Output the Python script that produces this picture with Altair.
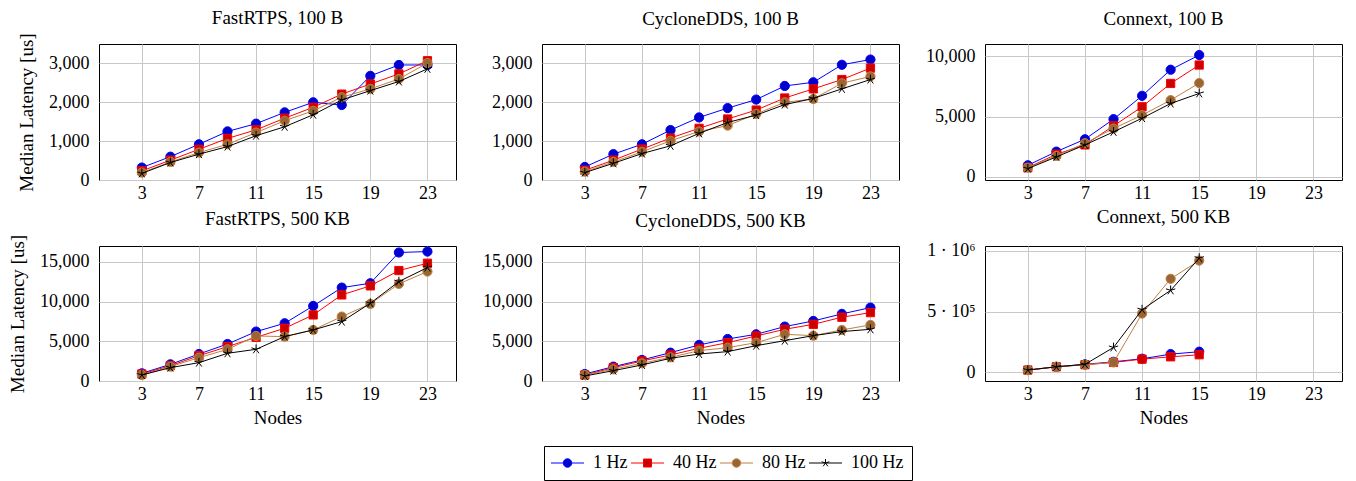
import altair as alt
import pandas as pd

series = ["1 Hz", "40 Hz", "80 Hz", "100 Hz"]
nodes = [3, 5, 7, 9, 11, 13, 15, 17, 19, 21, 23]
nodes_connext = [3, 5, 7, 9, 11, 13, 15]
x_ticks = [3, 7, 11, 15, 19, 23]

fast_100 = {
    "1 Hz": [320, 600, 920, 1250, 1450, 1740, 2000, 1930, 2680, 2960, 2960],
    "40 Hz": [235, 510, 790, 1070, 1290, 1590, 1870, 2210, 2470, 2730, 3070],
    "80 Hz": [190, 465, 705, 920, 1220, 1525, 1780, 2130, 2345, 2600, 3010],
    "100 Hz": [170, 450, 665, 860, 1140, 1370, 1680, 2060, 2300, 2535, 2860],
}
cyclone_100 = {
    "1 Hz": [335, 665, 920, 1285, 1610, 1850, 2070, 2420, 2515, 2965, 3100],
    "40 Hz": [250, 510, 795, 1080, 1330, 1570, 1800, 2110, 2345, 2585, 2880],
    "80 Hz": [215, 465, 725, 1010, 1250, 1400, 1700, 2000, 2085, 2490, 2665],
    "100 Hz": [190, 430, 680, 880, 1200, 1480, 1670, 1940, 2100, 2345, 2585],
}
connext_100 = {
    "1 Hz": [945, 2080, 3110, 4780, 6720, 8890, 10110],
    "40 Hz": [750, 1860, 2640, 4220, 5810, 7750, 9280],
    "80 Hz": [750, 1720, 2780, 4000, 5110, 6360, 7780],
    "100 Hz": [670, 1640, 2640, 3720, 4860, 6080, 6920],
}
fast_500 = {
    "1 Hz": [965, 2100, 3400, 4660, 6220, 7270, 9450, 11760, 12310, 16180, 16300],
    "40 Hz": [880, 1930, 3190, 4330, 5500, 6640, 8320, 10840, 11980, 13910, 14830],
    "80 Hz": [755, 1810, 2940, 3990, 5670, 5590, 6430, 8110, 9710, 12230, 13780],
    "100 Hz": [755, 1680, 2310, 3490, 3990, 5590, 6430, 7480, 9790, 12520, 14290],
}
cyclone_500 = {
    "1 Hz": [880, 1810, 2650, 3570, 4540, 5290, 5880, 6850, 7560, 8450, 9240],
    "40 Hz": [755, 1680, 2520, 3280, 4120, 4830, 5670, 6510, 7140, 8030, 8610],
    "80 Hz": [755, 1470, 2230, 2980, 3820, 4200, 4830, 5880, 5710, 6430, 7060],
    "100 Hz": [630, 1300, 2020, 2860, 3400, 3700, 4450, 5080, 5710, 6220, 6510],
}
connext_500 = {
    "1 Hz": [19000, 46000, 66000, 87000, 112000, 150000, 170000],
    "40 Hz": [19000, 46000, 63000, 82000, 109000, 128000, 145000],
    "80 Hz": [19000, 46000, 63000, 82000, 484000, 770000, 920000],
    "100 Hz": [19000, 46000, 66000, 205000, 516000, 675000, 940000],
}

line_colors = ["#0000ff", "#ff0000", "#bf8040", "#000000"]
fill_colors = ["#0000cc", "#cc0000", "#996633", "transparent"]

STAR = "M0,0L0,-1M0,0L-0.951,-0.309M0,0L-0.588,0.809M0,0L0.588,0.809M0,0L0.951,-0.309"
marker_shapes = ["circle", "square", "circle", STAR]
marker_sizes = [85, 68, 85, 95]
# legend symbols: unit = 5px (symbolSize 100); line from -2 to 4.6, marker centred at 1.3
legend_paths = [
    "M-2,0H0.45M2.15,0H4.6M0.45,0A0.85,0.85,0,1,1,2.15,0A0.85,0.85,0,1,1,0.45,0Z",
    "M-2,0H0.5M2.1,0H4.6M0.5,-0.8H2.1V0.8H0.5Z",
    "M-2,0H0.45M2.15,0H4.6M0.45,0A0.85,0.85,0,1,1,2.15,0A0.85,0.85,0,1,1,0.45,0Z",
    "M-2,0H4.6M1.3,0L1.3,-0.8M1.3,0L0.539,-0.247M1.3,0L0.83,0.647M1.3,0L1.77,0.647M1.3,0L2.061,-0.247",
]

rows = []
for pname, xs, d in [
    ("fast_100", nodes, fast_100),
    ("cyclone_100", nodes, cyclone_100),
    ("connext_100", nodes_connext, connext_100),
    ("fast_500", nodes, fast_500),
    ("cyclone_500", nodes, cyclone_500),
    ("connext_500", nodes_connext, connext_500),
]:
    for s in series:
        for x, v in zip(xs, d[s]):
            rows.append({"panel": pname, "nodes": x, "series": s, "latency": v})
df = pd.DataFrame(rows)

FONT = "Liberation Serif"
W, H = 357, 136


def make_panel(pname, title, ydom, yticks, ytitle, xtitle, label_expr=None, legend=False, h=H):
    base = alt.Chart(df).transform_filter(alt.datum.panel == pname)
    x_axis_kw = dict(values=x_ticks, labelPadding=4, titlePadding=5)
    x_axis_kw["title"] = "Nodes" if xtitle else None
    xenc = alt.X(
        "nodes:Q",
        scale=alt.Scale(domain=[0, 25], nice=False, zero=False),
        axis=alt.Axis(**x_axis_kw),
    )
    axis_kw = dict(values=yticks, labelPadding=10, titlePadding=12)
    axis_kw["title"] = ytitle if ytitle else None
    axis_kw["labelExpr"] = label_expr if label_expr else "format(datum.value, ',')"
    yenc = alt.Y("latency:Q", scale=alt.Scale(domain=ydom, nice=False, zero=False), axis=alt.Axis(**axis_kw))
    layers = []
    for i, s in enumerate(series):
        sub = base.transform_filter(alt.datum.series == s)
        layers.append(sub.mark_line(color=line_colors[i], strokeWidth=1).encode(x=xenc, y=yenc))
        if i == 3:
            pt = sub.mark_point(shape=marker_shapes[i], size=marker_sizes[i], filled=False,
                                stroke=line_colors[i], strokeWidth=1, opacity=1)
        else:
            pt = sub.mark_point(shape=marker_shapes[i], size=marker_sizes[i], filled=True,
                                fill=fill_colors[i], stroke=line_colors[i], strokeWidth=1, opacity=1)
        layers.append(pt.encode(x=xenc, y=yenc))
    if legend:
        leg = alt.Legend(
            title=None, orient="none", legendX=445, legendY=402, direction="horizontal",
            labelFont=FONT, labelFontSize=18, labelColor="black", strokeColor="black",
            fillColor="white", padding=8, symbolSize=100, symbolStrokeWidth=1,
            columnPadding=1, labelOffset=23,
        )
        dummy = alt.Chart(df).transform_filter("false").mark_point(
            filled=True, size=100, strokeWidth=1, opacity=1
        ).encode(
            shape=alt.Shape("series:N", scale=alt.Scale(domain=series, range=legend_paths), legend=leg),
            fill=alt.Fill("series:N", scale=alt.Scale(domain=series, range=fill_colors), legend=leg),
            stroke=alt.Stroke("series:N", scale=alt.Scale(domain=series, range=line_colors), legend=leg),
        )
        layers.append(dummy)
    # the rotated y-axis title reaches ~10px above the plot; compensate so titles line up
    toff = 5 if ytitle else 15
    return alt.layer(*layers).properties(
        width=W, height=h,
        title=alt.Title(title, font=FONT, fontSize=19, fontWeight="normal", color="black",
                        offset=toff, frame="group"),
    )


connext_expr = "datum.value == 0 ? '0' : datum.value == 500000 ? '5 · 10⁵' : '1 · 10⁶'"

p1 = make_panel("fast_100", "FastRTPS, 100 B", [0, 3500], [0, 1000, 2000, 3000], "Median Latency [us]", False, legend=True)
p2 = make_panel("cyclone_100", "CycloneDDS, 100 B", [0, 3500], [0, 1000, 2000, 3000], None, False)
p3 = make_panel("connext_100", "Connext, 100 B", [-280, 11030], [0, 5000, 10000], None, False)
p4 = make_panel("fast_500", "FastRTPS, 500 KB", [0, 17000], [0, 5000, 10000, 15000], "Median Latency [us]", True, h=135)
p5 = make_panel("cyclone_500", "CycloneDDS, 500 KB", [0, 17000], [0, 5000, 10000, 15000], None, True, h=135)
p6 = make_panel("connext_500", "Connext, 500 KB", [-71000, 1040000], [0, 500000, 1000000], None, True, label_expr=connext_expr, h=135)

chart = alt.concat(
    p1, p2, p3, p4, p5, p6, columns=3, spacing=alt.RowColnumber(row=66, column=86), bounds="flush"
).properties(
    background="white", padding={"left": 0, "top": 0, "right": 5, "bottom": 0}
).configure_view(
    stroke="black", strokeWidth=1
).configure_axis(
    grid=True, gridColor="#c8c8c8", gridWidth=1, domain=False, ticks=False,
    labelFont=FONT, labelFontSize=18, labelColor="black",
    titleFont=FONT, titleFontSize=19, titleFontWeight="normal", titleColor="black",
)

chart.save("out.html", embed_options={"renderer": "svg", "actions": False})
